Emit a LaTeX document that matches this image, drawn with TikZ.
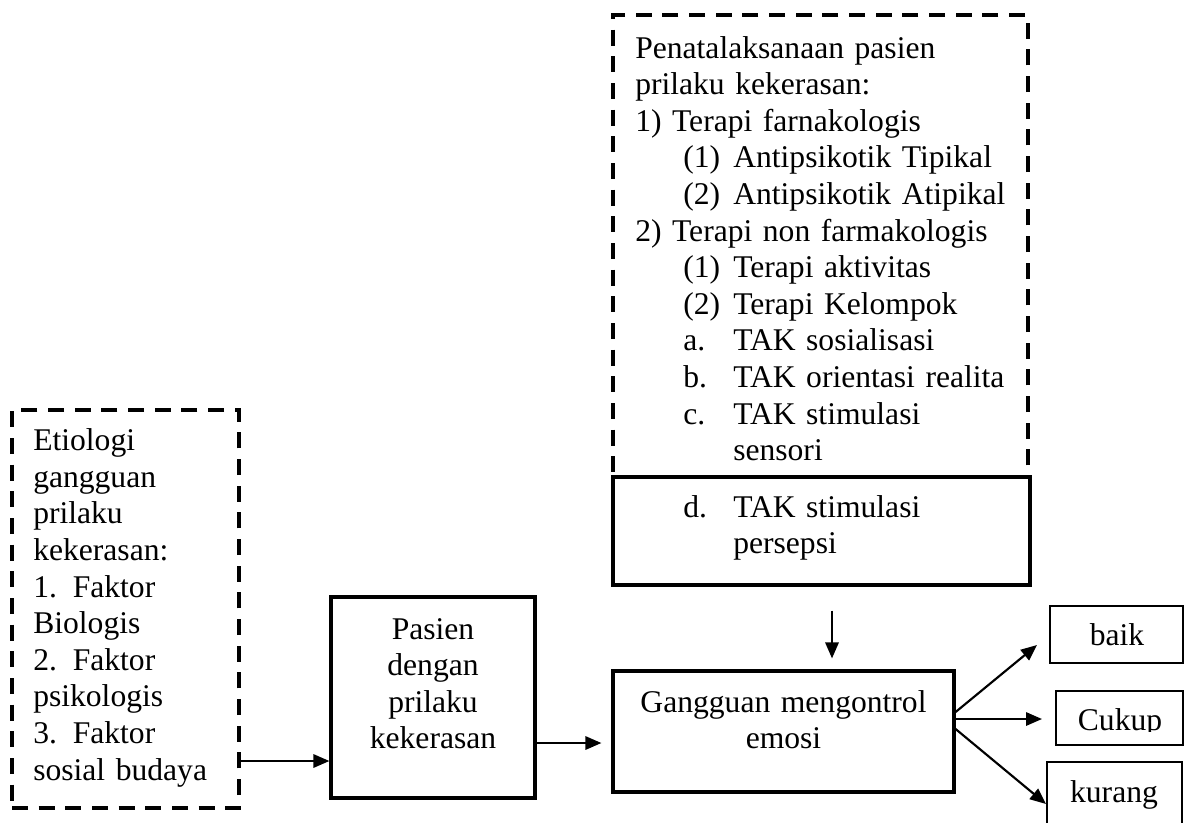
\documentclass[tikz,border=0pt]{standalone}
\usepackage{fontspec}
\setmainfont{Liberation Serif}
\usetikzlibrary{arrows.meta,calc,fit}
\newcommand{\lbl}[1]{\hspace*{36pt}\makebox[37.5pt][l]{#1}}
\begin{document}
\begin{tikzpicture}[x=0.75pt,y=-0.75pt,
  txt/.style={font=\fontsize{23.7pt}{27.45pt}\selectfont, inner sep=0pt},
  box/.style={draw, line width=2.4pt, inner sep=0pt},
  dbox/.style={draw, line width=2.4pt, dash pattern=on 12pt off 8pt, inner sep=0pt},
  sbox/.style={draw, line width=2pt, inner sep=0pt},
  arr/.style={line width=1.6pt, -{Triangle[length=12pt,width=10pt]}}]
\clip (0,0) rectangle (1184,822);
\fill[white] (0,0) rectangle (1184,822);

% boxes
\node[dbox, fit={(613,15) (1028,477)}] (tata) {};
\node[box, fit={(613,477) (1030,585)}] (dbx) {};
\node[dbox, fit={(12,410) (239,808)}] (etio) {};
\node[box, fit={(331,597) (535,798)}] (pasien) {};
\node[box, fit={(613,671) (954,792)}] (gang) {};
\node[sbox, fit={(1050,606) (1183,663)}] (baik) {};
\node[sbox, fit={(1056,691) (1183,745)}] (cukup) {};
\node[sbox, fit={(1047,762) (1182,840)}] (kurang) {};

% texts
\node[txt, anchor=base west, text width=300pt, align=left] (tataT) at (635,58) {Penatalaksanaan pasien\\
prilaku kekerasan:\\
1) Terapi farnakologis\\
\lbl{(1)}Antipsikotik Tipikal\\
\lbl{(2)}Antipsikotik Atipikal\\
2) Terapi non farmakologis\\
\lbl{(1)}Terapi aktivitas\\
\lbl{(2)}Terapi Kelompok\\
\lbl{a.}TAK sosialisasi\\
\lbl{b.}TAK orientasi realita\\
\lbl{c.}TAK stimulasi\\
\lbl{}sensori};
\node[txt, anchor=base west, text width=280pt, align=left] (dT) at (635,517) {\lbl{d.}TAK stimulasi\\
\lbl{}persepsi};
\node[txt, anchor=base west, text width=160pt, align=left] (etioT) at (33,450.7) {Etiologi\\
gangguan\\
prilaku\\
kekerasan:\\
1. Faktor\\
Biologis\\
2. Faktor\\
psikologis\\
3. Faktor\\
sosial budaya};
\node[txt, anchor=base, text width=140pt, align=center] (pasienT) at (433,639) {Pasien\\ dengan\\ prilaku\\ kekerasan};
\node[txt, anchor=base, text width=240pt, align=center] (gangT) at (783.5,712) {Gangguan mengontrol\\ emosi};
\node[txt, anchor=base] (baikT) at (1117,645) {baik};
\begin{scope}
\clip (1056,691) rectangle (1183,731);
\node[txt, anchor=base] (cukupT) at (1120,730) {Cukup};
\end{scope}
\node[txt, anchor=base] (kurangT) at (1114,802) {kurang};

% connectors
\coordinate (y1) at (0,761);
\coordinate (y2) at (0,743);
\coordinate (x3) at (832,0);
\coordinate (e1) at (1037,645);
\coordinate (e2) at (1042,719);
\coordinate (e3) at (1046,804);
\coordinate (s1) at (954,712);
\coordinate (s2) at (954,719);
\coordinate (s3) at (954,729);
\draw[arr] (etio.east |- y1) -- (pasien.west |- y1);
\draw[arr] (pasien.east |- y2) -- ($(gang.west |- y2)+(-10,0)$);
\draw[arr] ($(dbx.south -| x3)+(0,24)$) -- ($(gang.north -| x3)+(0,-11)$);
\draw[arr] (gang.east |- s1) -- (e1);
\draw[arr] (gang.east |- s2) -- (e2);
\draw[arr] (gang.east |- s3) -- (e3);
\end{tikzpicture}
\end{document}
